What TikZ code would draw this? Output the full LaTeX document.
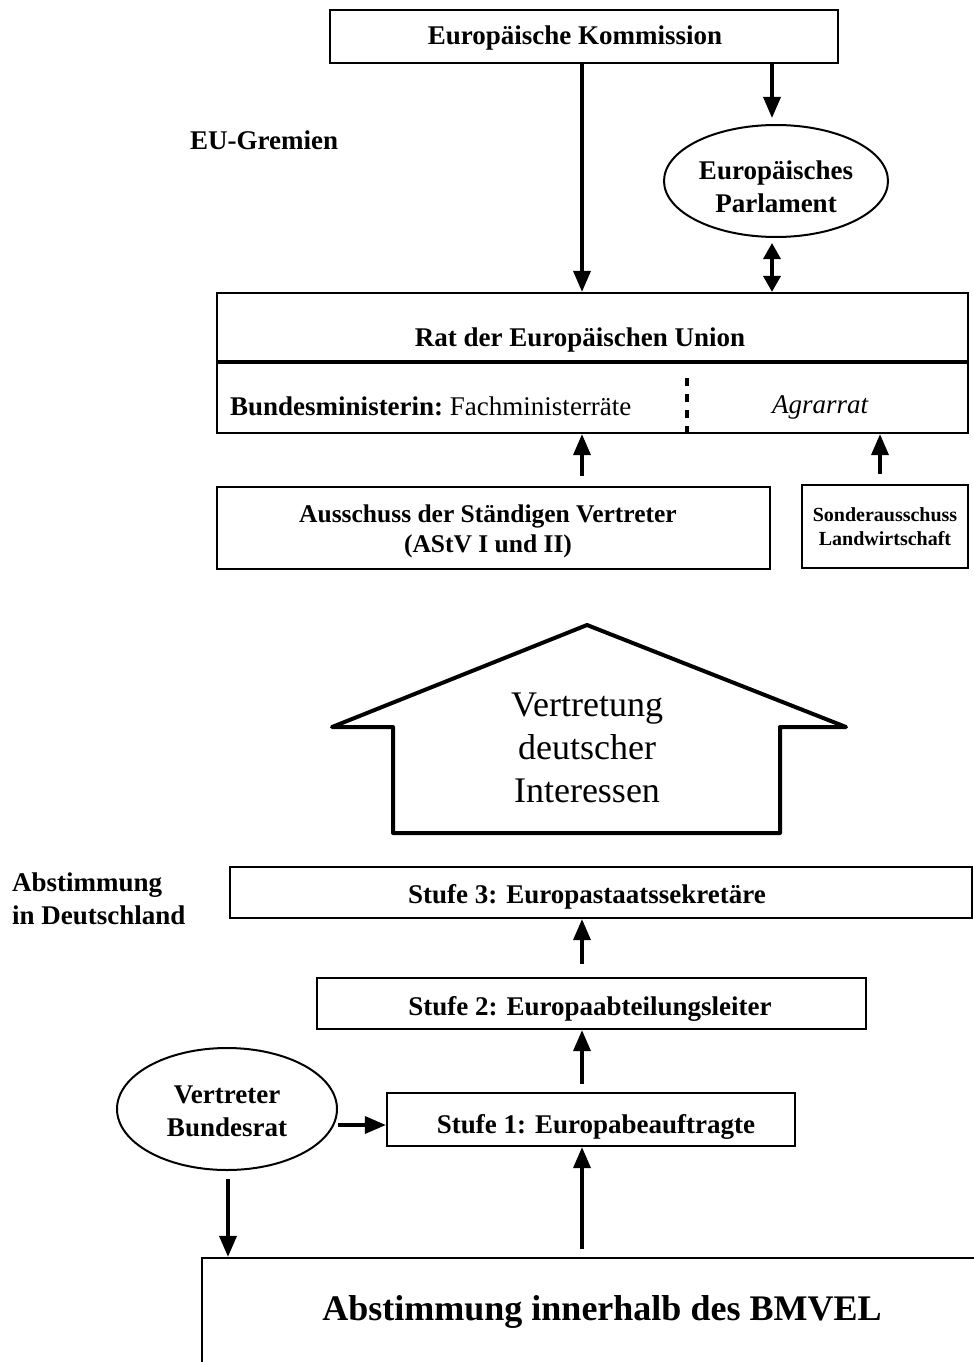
\documentclass[tikz,border=0pt]{standalone}
\usepackage{fontspec}
\setmainfont{Liberation Serif}
\usetikzlibrary{arrows.meta,shapes.geometric}
\begin{document}
\begin{tikzpicture}[x=1pt,y=-1pt,
  box/.style={draw,line width=2.2pt,inner sep=0pt},
  oval/.style={draw,ellipse,line width=2pt,inner sep=0pt},
  lbl/.style={font=\bfseries\fontsize{27}{33}\selectfont,align=center,inner sep=0pt},
  mlbl/.style={font=\bfseries\fontsize{25.5}{30}\selectfont,align=center,inner sep=0pt},
  stlbl/.style={font=\bfseries\fontsize{27}{33}\selectfont,align=center,inner sep=0pt},
  slbl/.style={font=\bfseries\fontsize{20}{24}\selectfont,align=center,inner sep=0pt},
  arr/.style={line width=3.5pt,-{Triangle[length=21pt,width=17pt]}},
  darr/.style={line width=3.5pt,{Triangle[length=16pt,width=17pt]}-{Triangle[length=16pt,width=17pt]}}
]
\useasboundingbox (0,0) rectangle (974,1362);
\fill[white] (0,0) rectangle (974,1362);

% EU part
\node[box,minimum width=508,minimum height=53] (komm) at (584,36.5) {};
\node[lbl] (kommt) at (575,38) {Europäische Kommission};
\node[lbl,anchor=west] (eug) at (190,140) {EU-Gremien};
\node[oval,minimum width=224,minimum height=112] (parl) at (776,181) {};
\node[lbl] (parlt) at (776,187) {Europäisches\\Parlament};

\node[box,minimum width=751,minimum height=140] (rat) at (592.5,363) {};
\node[lbl] (ratt) at (580,340) {Rat der Europäischen Union};
\coordinate (ydiv) at (0,362);
\draw[line width=3.5pt] (ydiv -| rat.west) -- (ydiv -| rat.east);
\node[anchor=west,inner sep=0pt,font=\fontsize{27}{33}\selectfont] (bmin) at (230,406) {\textbf{Bundesministerin:}\ Fachministerräte};
\node[inner sep=0pt,font=\itshape\fontsize{27}{33}\selectfont] (agr) at (820,407) {Agrarrat};
\coordinate (xd) at (687,0);
\draw[line width=4pt,dash pattern=on 8pt off 8pt] (xd |- rat.south) -- (687,375);

\node[box,minimum width=553,minimum height=82] (aus) at (493.5,528) {};
\node[mlbl] (aust) at (488,531) {Ausschuss der Ständigen Vertreter\\(AStV I und II)};
\node[box,minimum width=166,minimum height=83] (sond) at (885,526.5) {};
\node[slbl] (sondt) at (885,527) {Sonderausschuss\\Landwirtschaft};

\coordinate (xa) at (582,0);
\coordinate (xb) at (772,0);
\coordinate (xc) at (880,0);
\draw[arr] (xa |- komm.south) -- (xa |- rat.north);
\draw[arr,shorten >=6pt] (xb |- komm.south) -- (xb |- parl.north);
\draw[darr,shorten <=5pt] (xb |- parl.south) -- (xb |- rat.north);
\draw[arr,shorten <=10pt] (xa |- aus.north) -- (xa |- rat.south);
\draw[arr,shorten <=10pt] (xc |- sond.north) -- (xc |- rat.south);

% house
\draw[line width=4pt,line join=round] (332,727) -- (393,727) -- (393,833) -- (780,833) -- (780,727) -- (846,727) -- (587,625) -- cycle;
\node[inner sep=0pt,align=center,font=\fontsize{36}{43}\selectfont] (house) at (587,748) {Vertretung\\deutscher\\Interessen};

% Germany part
\node[lbl,anchor=west,align=left] (abst) at (12,899) {Abstimmung\\in Deutschland};
\node[box,minimum width=742,minimum height=51] (st3) at (601,892.5) {};
\node[stlbl] (st3t) at (587,897) {Stufe 3: Europastaatssekretäre};
\node[box,minimum width=549,minimum height=51] (st2) at (591.5,1003.5) {};
\node[stlbl] (st2t) at (590,1009) {Stufe 2: Europaabteilungsleiter};
\node[box,minimum width=408,minimum height=53] (st1) at (591,1119.5) {};
\node[stlbl] (st1t) at (596,1127) {Stufe 1: Europabeauftragte};
\node[oval,minimum width=220,minimum height=122] (vb) at (227,1109) {};
\node[lbl] (vbt) at (227,1111) {Vertreter\\Bundesrat};

\node[box,minimum width=800,minimum height=160] (bm) at (602,1338) {};
\node[inner sep=0pt,font=\bfseries\fontsize{36}{43}\selectfont] (bmt) at (602,1312) {Abstimmung innerhalb des BMVEL};

\draw[arr,shorten <=13pt] (xa |- st2.north) -- (xa |- st3.south);
\draw[arr,shorten <=8pt] (xa |- st1.north) -- (xa |- st2.south);
\draw[arr,shorten <=8pt] (xa |- bm.north) -- (xa |- st1.south);
\coordinate (yv) at (0,1125);
\coordinate (xv) at (228,0);
\draw[arr] (yv -| vb.east) -- (yv -| st1.west);
\draw[arr,shorten <=8pt] (xv |- vb.south) -- (xv |- bm.north);
\end{tikzpicture}
\end{document}
